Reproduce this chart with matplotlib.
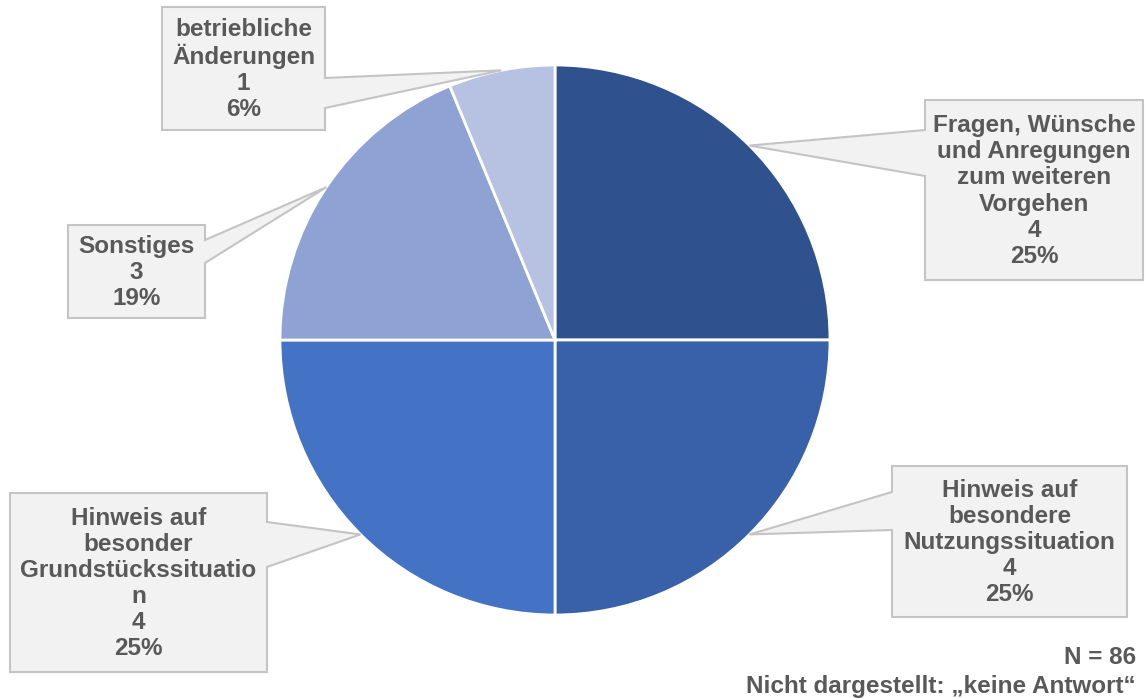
import numpy as np
import matplotlib
matplotlib.use("Agg")
import matplotlib.pyplot as plt
from matplotlib.patches import Polygon

plt.rcParams['font.family'] = ['Liberation Sans', 'DejaVu Sans']

# Antworten (ohne "keine Antwort")
labels = [
    "Fragen, Wünsche\nund Anregungen\nzum weiteren\nVorgehen",
    "Hinweis auf\nbesondere\nNutzungssituation",
    "Hinweis auf\nbesonder\nGrundstückssituatio\nn",
    "Sonstiges",
    "betriebliche\nÄnderungen",
]
counts = [4, 4, 4, 3, 1]
colors = ["#2F528F", "#3861AA", "#4472C4", "#8FA2D4", "#B7C2E3"]

# Callout-Boxen in Pixeln: links, oben, rechts, unten, Seite des Zeigers, Anschluss y1/y2
boxes = [
    (925, 100, 1143, 280, "left", 130, 176),
    (892, 466, 1127, 617, "left", 492, 530),
    (10, 493, 267, 672, "right", 522, 567),
    (68, 225, 205, 318, "right", 240, 263),
    (162, 7, 325, 130, "right", 78, 108),
]

W, H = 1145, 698
FS = 17.5
fig = plt.figure(figsize=(W / 100, H / 100), dpi=100)

# Kreisdiagramm: Mittelpunkt (555, 340), Radius 275 px
cx, cy, r = 555, 340, 275
ax = fig.add_axes([(cx - r) / W, (H - cy - r) / H, 2 * r / W, 2 * r / H])
wedges, _ = ax.pie(counts, colors=colors, startangle=90, counterclock=False,
                   wedgeprops=dict(edgecolor="white", linewidth=2))
ax.set_xlim(-1, 1)
ax.set_ylim(-1, 1)
ax.set_aspect("equal")
ax.axis("off")

# Overlay in Pixelkoordinaten für die Beschriftungen
ov = fig.add_axes([0, 0, 1, 1])
ov.set_xlim(0, W)
ov.set_ylim(H, 0)
ov.axis("off")

total = sum(counts)
to_px = ax.transData + ov.transData.inverted()
for w, lab, n, (x0, y0, x1, y1, side, j1, j2) in zip(wedges, labels, counts, boxes):
    mid = np.deg2rad((w.theta1 + w.theta2) / 2)
    tx, ty = to_px.transform((np.cos(mid), np.sin(mid)))
    if side == "right":
        pts = [(x0, y0), (x1, y0), (x1, j1), (tx, ty), (x1, j2), (x1, y1), (x0, y1)]
    else:
        pts = [(x0, y0), (x1, y0), (x1, y1), (x0, y1), (x0, j2), (tx, ty), (x0, j1)]
    ov.add_patch(Polygon(pts, closed=True, facecolor="#F2F2F2",
                         edgecolor="#C4C4C4", linewidth=1.5, zorder=3))
    pct = round(100 * n / total)
    ov.text((x0 + x1) / 2, (y0 + y1) / 2 + 1, f"{lab}\n{n}\n{pct}%",
            ha="center", va="center", fontsize=FS, fontweight="bold",
            color="#595959", linespacing=1.17, zorder=4)

ov.text(1136, 658, "N = 86", ha="right", va="center", fontsize=FS,
        fontweight="bold", color="#595959")
ov.text(1136, 687, "Nicht dargestellt: „keine Antwort“", ha="right", va="center",
        fontsize=FS, fontweight="bold", color="#595959")

fig.savefig("out.png", dpi=100)
